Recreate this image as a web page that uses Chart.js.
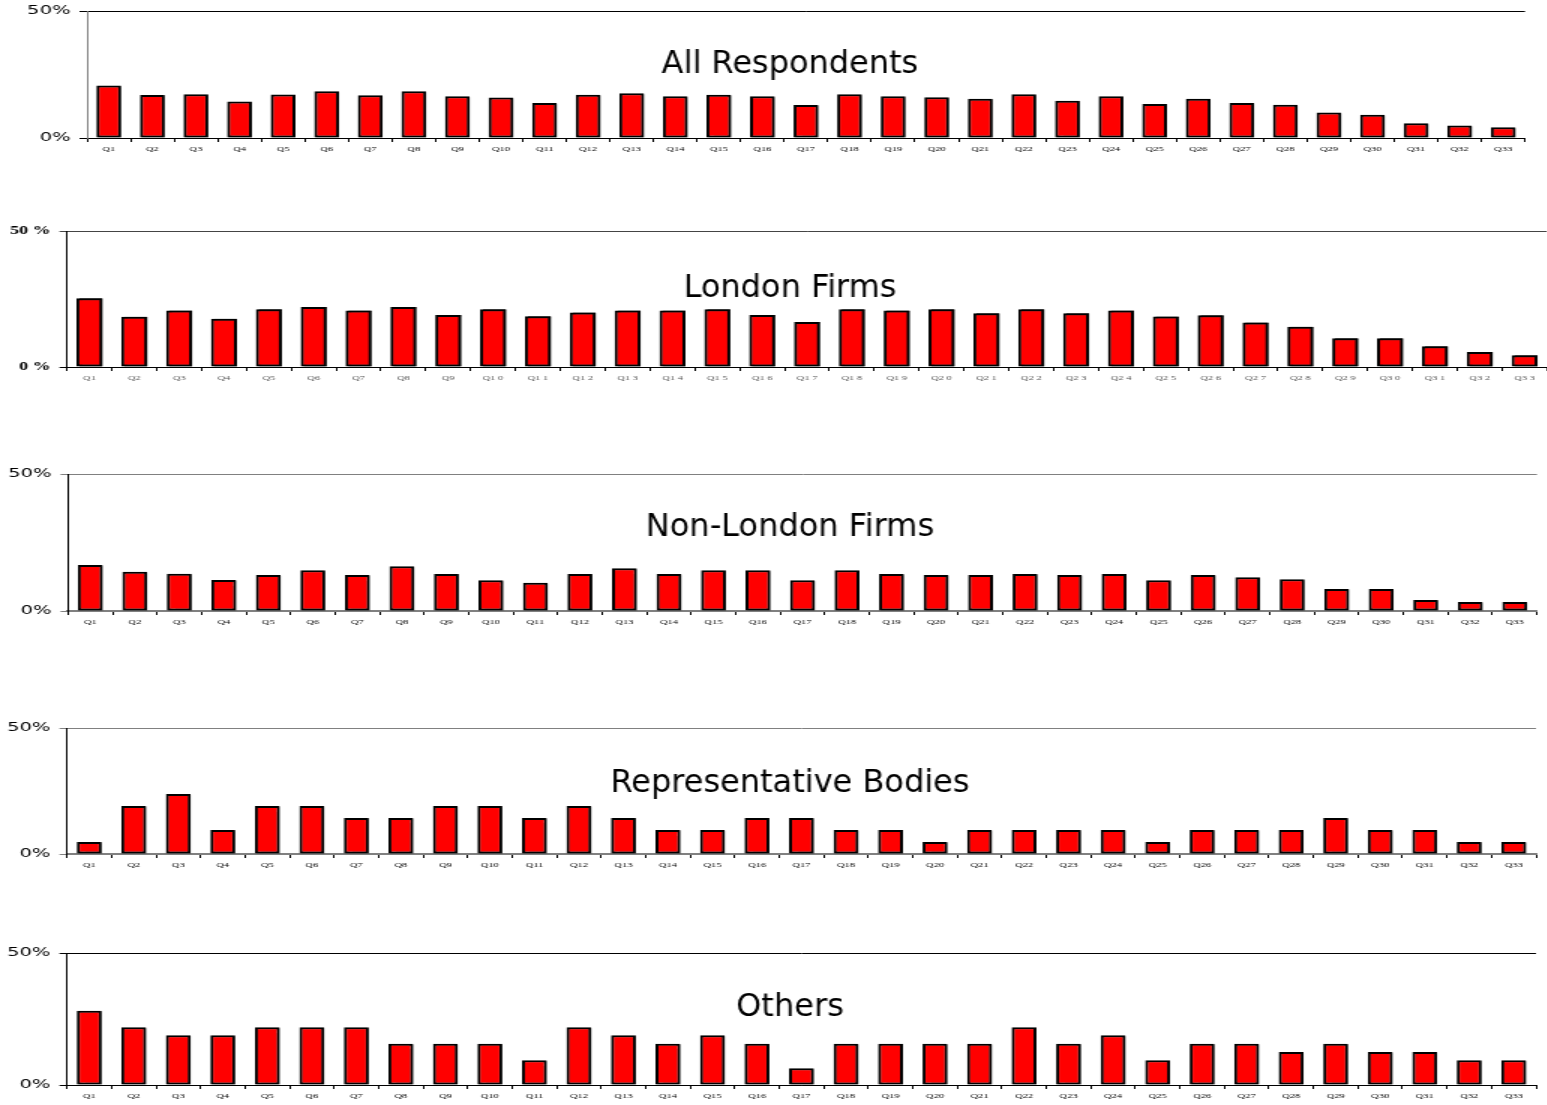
<!DOCTYPE html>
<html>
<head>
<meta charset="utf-8">
<script src="https://cdn.jsdelivr.net/npm/chart.js@4.4.1/dist/chart.umd.min.js"></script>
<style>
  html, body { margin: 0; padding: 0; background: #fff; width: 1547px; height: 1105px; overflow: hidden; }
  canvas.panel { position: absolute; left: 0; transform-origin: 0 0; }
</style>
</head>
<body>
<script>
// Question labels shared by every panel
const categories = ['Q1','Q2','Q3','Q4','Q5','Q6','Q7','Q8','Q9','Q10','Q11','Q12','Q13','Q14','Q15','Q16','Q17',
                    'Q18','Q19','Q20','Q21','Q22','Q23','Q24','Q25','Q26','Q27','Q28','Q29','Q30','Q31','Q32','Q33'];

// Share of each respondent group (percent)
const allRespondents = [20.7, 16.9, 17.2, 14.4, 17.1, 18.4, 16.8, 18.4, 16.4, 15.9, 13.8, 17.0, 17.6, 16.4, 17.0, 16.4, 13.0,
                        17.2, 16.4, 16.0, 15.5, 17.2, 14.7, 16.4, 13.4, 15.5, 13.8, 13.1, 10.0, 9.2, 5.8, 4.9, 4.2];
const londonFirms = [25.3, 18.5, 20.8, 17.7, 21.2, 22.1, 20.8, 22.1, 19.1, 21.2, 18.7, 20.0, 20.8, 20.8, 21.2, 19.1, 16.5,
                     21.2, 20.8, 21.2, 19.8, 21.2, 19.8, 20.8, 18.6, 19.0, 16.4, 14.8, 10.6, 10.6, 7.6, 5.5, 4.3];
const nonLondonFirms = [16.8, 14.3, 13.6, 11.3, 13.1, 14.9, 13.1, 16.3, 13.5, 11.2, 10.3, 13.5, 15.6, 13.5, 14.9, 14.9, 11.2,
                        14.9, 13.5, 13.1, 13.1, 13.5, 13.1, 13.5, 11.2, 13.1, 12.3, 11.6, 8.0, 8.0, 4.0, 3.3, 3.3];
const representativeBodies = [4.8, 19.0, 23.8, 9.5, 19.0, 19.0, 14.3, 14.3, 19.0, 19.0, 14.3, 19.0, 14.3, 9.5, 9.5, 14.3, 14.3,
                              9.5, 9.5, 4.8, 9.5, 9.5, 9.5, 9.5, 4.8, 9.5, 9.5, 9.5, 14.3, 9.5, 9.5, 4.8, 4.8];
const others = [28.1, 21.9, 18.8, 18.8, 21.9, 21.9, 21.9, 15.6, 15.6, 15.6, 9.4, 21.9, 18.8, 15.6, 18.8, 15.6, 6.3,
                15.6, 15.6, 15.6, 15.6, 21.9, 15.6, 18.8, 9.4, 15.6, 15.6, 12.5, 15.6, 12.5, 12.5, 9.4, 9.4];

// Value axis ticks
const yTickValues = [0, 50];
const yMax = 50;

const panelTitles = ['All Respondents', 'London Firms', 'Non-London Firms', 'Representative Bodies', 'Others'];
const panelSeries = [allRespondents, londonFirms, nonLondonFirms, representativeBodies, others];

// Each panel is drawn narrow and widened horizontally
const SX = 1.5;
const CW = Math.ceil(1547 / SX);
const PAD_TOP = 15;
const X_AXIS_H = 30;

// Plot frames in page pixels, plus per-panel styling
const frames = [
  { left: 87, right: 1525, top: 11,  bottom: 138,  titleY: 62,   topLine: '#000', yBorder: '#808080', xBorder: '#000', xBorderW: 1,
    yFont: { family: '"DejaVu Sans"', size: 13 }, ySuffix: '%', xColor: '#000', spaced: false, bar: 0.57, shadow: { color: 'rgba(0,0,0,0.35)', dx: 1, dy: 1, blur: 1 } },
  { left: 67, right: 1547, top: 231, bottom: 367,  titleY: 286,  topLine: '#444', yBorder: '#000', xBorder: '#000', xBorderW: 1,
    yFont: { family: '"Liberation Serif"', size: 12, weight: 'bold' }, ySuffix: ' %', xColor: '#555', spaced: true, bar: 0.58, shadow: { color: 'rgba(0,0,0,0.9)', dx: 2, dy: 0, blur: 0 } },
  { left: 68, right: 1537, top: 474, bottom: 611,  titleY: 525,  topLine: '#808080', yBorder: '#000', xBorder: '#808080', xBorderW: 2,
    yFont: { family: '"DejaVu Sans"', size: 13 }, ySuffix: '%', xColor: '#000', spaced: false, bar: 0.56, shadow: { color: 'rgba(0,0,0,0.35)', dx: 1, dy: 1, blur: 1 } },
  { left: 67, right: 1536, top: 728, bottom: 854,  titleY: 781,  topLine: '#808080', yBorder: '#000', xBorder: '#808080', xBorderW: 2,
    yFont: { family: '"DejaVu Sans"', size: 13 }, ySuffix: '%', xColor: '#000', spaced: false, bar: 0.56, shadow: { color: 'rgba(0,0,0,0.35)', dx: 1, dy: 1, blur: 1 } },
  { left: 67, right: 1536, top: 953, bottom: 1085, titleY: 1005, topLine: '#000', yBorder: '#000', xBorder: '#000', xBorderW: 1,
    yFont: { family: '"DejaVu Sans"', size: 13 }, ySuffix: '%', xColor: '#000', spaced: false, bar: 0.56, shadow: { color: 'rgba(0,0,0,0.35)', dx: 1, dy: 1, blur: 1 } }
];

// Title drawn inside the plot, undoing the horizontal widening so the text keeps its shape
const panelTitle = {
  id: 'panelTitle',
  afterDraw(chart, args, opts) {
    const ctx = chart.ctx;
    ctx.save();
    ctx.scale(1 / SX, 1);
    ctx.font = '32px "DejaVu Sans"';
    ctx.fillStyle = '#000';
    ctx.textAlign = 'center';
    ctx.textBaseline = 'middle';
    ctx.fillText(opts.text, opts.x, opts.y);
    ctx.restore();
  }
};

// Soft drop shadow behind the bars
const barShadow = {
  id: 'barShadow',
  beforeDatasetsDraw(chart, args, opts) {
    const ctx = chart.ctx;
    ctx.save();
    ctx.shadowColor = opts.color;
    ctx.shadowOffsetX = opts.dx;
    ctx.shadowOffsetY = opts.dy;
    ctx.shadowBlur = opts.blur;
  },
  afterDatasetsDraw(chart) {
    chart.ctx.restore();
  }
};

frames.forEach((f, i) => {
  const canvasTop = f.top - PAD_TOP;
  const H = (f.bottom - f.top) + PAD_TOP + X_AXIS_H;
  const canvas = document.createElement('canvas');
  canvas.className = 'panel';
  canvas.width = CW;
  canvas.height = H;
  canvas.style.width = CW + 'px';
  canvas.style.height = H + 'px';
  canvas.style.top = canvasTop + 'px';
  canvas.style.transform = 'scaleX(' + SX + ')';
  document.body.appendChild(canvas);

  const yWidth = f.left / SX;
  const padRight = Math.max(CW - f.right / SX, 0);

  new Chart(canvas, {
    type: 'bar',
    data: {
      labels: categories,
      datasets: [{
        data: panelSeries[i],
        backgroundColor: '#ff0000',
        borderColor: '#000000',
        borderWidth: 2,
        borderSkipped: false,
        barPercentage: f.bar,
        categoryPercentage: 1
      }]
    },
    options: {
      responsive: false,
      animation: false,
      devicePixelRatio: 1,
      layout: { padding: { top: PAD_TOP, right: padRight, bottom: 0, left: 0 } },
      plugins: {
        legend: { display: false },
        tooltip: { enabled: false },
        panelTitle: { text: panelTitles[i], x: 790, y: f.titleY + 3 - canvasTop },
        barShadow: f.shadow
      },
      scales: {
        x: {
          grid: { drawOnChartArea: false, drawTicks: true, tickLength: 4, color: '#000', offset: true },
          border: { color: f.xBorder, width: f.xBorderW },
          ticks: {
            autoSkip: false, maxRotation: 0, padding: 3, color: f.xColor,
            font: { family: '"Liberation Serif"', size: 7 },
            callback(value) {
              const label = this.getLabelForValue(value);
              return f.spaced ? label.replace(/(\d)(?=\d)/g, '$1 ') : label;
            }
          },
          afterFit(scale) { scale.height = X_AXIS_H; }
        },
        y: {
          min: 0, max: yMax,
          afterBuildTicks(scale) { scale.ticks = yTickValues.map(v => ({ value: v })); },
          grid: {
            drawTicks: true, tickLength: 5, lineWidth: 1,
            color: ctx => (ctx.tick && ctx.tick.value === yMax) ? f.topLine : f.xBorder
          },
          border: { color: f.yBorder, width: 1 },
          ticks: { padding: 6, color: '#000', font: f.yFont, callback: v => v + f.ySuffix },
          afterFit(scale) { scale.width = yWidth; }
        }
      }
    },
    plugins: [panelTitle, barShadow]
  });
});
</script>
</body>
</html>
